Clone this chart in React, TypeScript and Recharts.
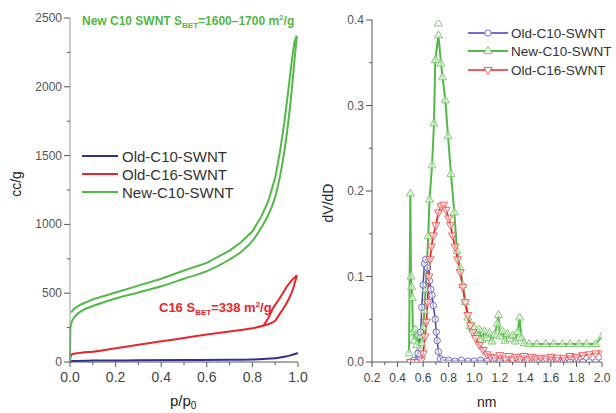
import React from "react";
import { LineChart, Line, XAxis, YAxis } from "recharts";

// ---- left panel: isotherms (cc/g vs p/p0) ----
const newC10AdsP = [0, 0.002, 0.01, 0.03, 0.06, 0.1, 0.2, 0.3, 0.4, 0.5, 0.6, 0.7, 0.75, 0.8, 0.84, 0.87, 0.9, 0.92, 0.94, 0.96, 0.975, 0.985, 0.995];
const newC10AdsV = [0, 250, 300, 345, 380, 407, 462, 505, 550, 605, 660, 745, 800, 880, 980, 1070, 1200, 1340, 1530, 1780, 2020, 2200, 2370];
const newC10DesP = [0.995, 0.985, 0.975, 0.96, 0.94, 0.92, 0.9, 0.87, 0.84, 0.8, 0.75, 0.7, 0.6, 0.5, 0.4, 0.3, 0.2, 0.1, 0.05, 0.02, 0.005];
const newC10DesV = [2370, 2330, 2220, 2010, 1740, 1520, 1340, 1170, 1060, 950, 870, 810, 720, 665, 605, 555, 505, 455, 420, 390, 360];

const oldC16AdsP = [0, 0.002, 0.01, 0.05, 0.1, 0.2, 0.3, 0.4, 0.5, 0.6, 0.7, 0.8, 0.85, 0.9, 0.92, 0.94, 0.96, 0.98, 0.995];
const oldC16AdsV = [0, 35, 58, 68, 75, 100, 125, 150, 175, 200, 222, 245, 265, 300, 350, 400, 460, 540, 630];
const oldC16DesP = [0.995, 0.985, 0.97, 0.95, 0.93, 0.91, 0.89, 0.87, 0.85];
const oldC16DesV = [630, 615, 590, 545, 490, 440, 390, 320, 268];

const oldC10P = [0, 0.01, 0.1, 0.3, 0.5, 0.7, 0.8, 0.85, 0.9, 0.94, 0.97, 0.99, 1.0];
const oldC10V = [0, 8, 10, 12, 14, 16, 18, 22, 28, 38, 50, 60, 65];

// ---- right panel: pore size distribution (dV/dD vs nm) ----
const greenNm = [0.49, 0.5, 0.505, 0.51, 0.515, 0.52, 0.53, 0.54, 0.55, 0.56, 0.57, 0.58, 0.59, 0.6, 0.61, 0.62, 0.63, 0.64, 0.65, 0.67, 0.685, 0.695, 0.72, 0.74, 0.752, 0.774, 0.795, 0.818, 0.844, 0.865, 0.89, 0.91, 0.93, 0.95, 0.97, 0.99, 1.0, 1.02, 1.04, 1.06, 1.08, 1.1, 1.12, 1.14, 1.16, 1.18, 1.19, 1.2, 1.22, 1.24, 1.26, 1.28, 1.3, 1.32, 1.34, 1.355, 1.37, 1.39, 1.43, 1.49, 1.56, 1.62, 1.69, 1.75, 1.82, 1.88, 1.95, 2.0];
const greenV = [0.01, 0.197, 0.1, 0.088, 0.075, 0.035, 0.025, 0.038, 0.02, 0.032, 0.015, 0.03, 0.022, 0.04, 0.06, 0.085, 0.115, 0.147, 0.19, 0.23, 0.279, 0.353, 0.382, 0.349, 0.333, 0.306, 0.264, 0.22, 0.175, 0.13, 0.11, 0.09, 0.07, 0.052, 0.042, 0.039, 0.04, 0.032, 0.038, 0.026, 0.036, 0.028, 0.034, 0.024, 0.032, 0.045, 0.055, 0.03, 0.036, 0.025, 0.033, 0.027, 0.031, 0.024, 0.035, 0.052, 0.028, 0.022, 0.021, 0.021, 0.021, 0.021, 0.021, 0.021, 0.021, 0.021, 0.021, 0.03];
const greenTopNm = [0.72];
const greenTopV = [0.396];

const redNm = [0.5, 0.53, 0.56, 0.585, 0.6, 0.615, 0.625, 0.635, 0.645, 0.655, 0.665, 0.68, 0.7, 0.72, 0.74, 0.76, 0.78, 0.8, 0.815, 0.83, 0.85, 0.87, 0.89, 0.91, 0.93, 0.95, 0.97, 0.99, 1.01, 1.04, 1.07, 1.1, 1.13, 1.16, 1.2, 1.24, 1.27, 1.3, 1.33, 1.36, 1.39, 1.42, 1.45, 1.48, 1.52, 1.56, 1.6, 1.65, 1.7, 1.75, 1.8, 1.85, 1.9, 1.95, 2.0];
const redV = [0, 0, 0, 0.002, 0.01, 0.03, 0.047, 0.07, 0.1, 0.12, 0.135, 0.148, 0.16, 0.175, 0.182, 0.184, 0.178, 0.168, 0.16, 0.148, 0.135, 0.12, 0.105, 0.088, 0.07, 0.055, 0.043, 0.035, 0.028, 0.02, 0.014, 0.009, 0.006, 0.005, 0.008, 0.004, 0.007, 0.003, 0.006, 0.004, 0.007, 0.003, 0.006, 0.004, 0.005, 0.004, 0.006, 0.005, 0.005, 0.007, 0.006, 0.008, 0.009, 0.01, 0.01];

const blueNm = [0.5, 0.53, 0.56, 0.58, 0.59, 0.6, 0.61, 0.62, 0.635, 0.65, 0.66, 0.67, 0.68, 0.695, 0.703, 0.71, 0.72, 0.735, 0.76, 0.8, 0.85, 0.9, 0.95, 1.0, 1.05, 1.1, 1.15, 1.2, 1.25, 1.3, 1.35, 1.4, 1.45, 1.5, 1.55, 1.6, 1.65, 1.7, 1.75, 1.8, 1.85, 1.9, 1.95, 2.0];
const blueV = [0, 0.002, 0.01, 0.035, 0.064, 0.09, 0.115, 0.12, 0.11, 0.095, 0.085, 0.078, 0.066, 0.05, 0.035, 0.025, 0.012, 0.004, 0.002, 0.002, 0.001, 0.002, 0.001, 0.001, 0.002, 0.001, 0.001, 0.001, 0.002, 0.001, 0, 0.001, 0.001, 0, 0.001, 0, 0.001, 0, 0, 0.001, 0, 0, 0, 0];

const leftXTicks = [0, 0.1, 0.2, 0.3, 0.4, 0.5, 0.6, 0.7, 0.8, 0.9, 1.0];
const leftYTicks = [0, 250, 500, 750, 1000, 1250, 1500, 1750, 2000, 2250, 2500];
const rightXTicks = [0.2, 0.3, 0.4, 0.5, 0.6, 0.7, 0.8, 0.9, 1.0, 1.1, 1.2, 1.3, 1.4, 1.5, 1.6, 1.7, 1.8, 1.9, 2.0];
const rightYTicks = [0, 0.05, 0.1, 0.15, 0.2, 0.25, 0.3, 0.35, 0.4];

const pts = (xs: number[], ys: number[]) => xs.map((x, i) => ({ x, y: ys[i] }));

const GREEN = "#52b847";
const RED = "#e8262b";
const BLUE = "#2e3192";
const FONT = "'Liberation Sans', Arial, sans-serif";
const AXIS = "#555";

const XTick = ({ x, y, payload, fontSize, fmtMajor }: any) => {
  const major = fmtMajor(payload.value);
  return (
    <g>
      <line x1={x} y1={y} x2={x} y2={y + (major ? 5 : 3)} stroke={AXIS} strokeWidth={1} />
      {major && (
        <text x={x} y={y + 20} textAnchor="middle" fontSize={fontSize} fill="#444" fontFamily={FONT}>
          {payload.value.toFixed(1)}
        </text>
      )}
    </g>
  );
};

const YTick = ({ x, y, payload, fontSize, fmtMajor, label }: any) => {
  const major = fmtMajor(payload.value);
  return (
    <g>
      <line x1={x} y1={y} x2={x - (major ? 6 : 3)} y2={y} stroke={AXIS} strokeWidth={1} />
      {major && (
        <text x={x - 8} y={y + 4} textAnchor="end" fontSize={fontSize} fill="#555" fontFamily={FONT}>
          {label(payload.value)}
        </text>
      )}
    </g>
  );
};

const triUp = (stroke: string) => (p: any) => {
  if (p.cx == null) return <g key={p.index} />;
  const { cx, cy } = p;
  return (
    <path key={p.index} d={`M${cx},${cy - 4.5}L${cx + 4},${cy + 2.5}L${cx - 4},${cy + 2.5}Z`}
      fill="#fff" fillOpacity={0.55} stroke={stroke} strokeWidth={1} />
  );
};
const triDown = (stroke: string) => (p: any) => {
  if (p.cx == null) return <g key={p.index} />;
  const { cx, cy } = p;
  return (
    <path key={p.index} d={`M${cx},${cy + 4.5}L${cx + 4},${cy - 2.5}L${cx - 4},${cy - 2.5}Z`}
      fill="#fff" fillOpacity={0.55} stroke={stroke} strokeWidth={1} />
  );
};
const circ = (stroke: string) => (p: any) => {
  if (p.cx == null) return <g key={p.index} />;
  return <circle key={p.index} cx={p.cx} cy={p.cy} r={3.2} fill="#fff" fillOpacity={0.55} stroke={stroke} strokeWidth={1} />;
};

function LeftChart() {
  return (
    <LineChart width={320} height={413} margin={{ top: 18, right: 22, left: 30, bottom: 21 }}>
      <XAxis type="number" dataKey="x" domain={[0, 1]} ticks={leftXTicks} interval={0} height={30}
        axisLine={{ stroke: AXIS }} tickLine={false} tickSize={0} tickMargin={0}
        tick={<XTick fontSize={14} fmtMajor={(v: number) => Math.round(v * 10) % 2 === 0} />} />
      <YAxis type="number" dataKey="y" domain={[0, 2500]} ticks={leftYTicks} interval={0} width={40}
        axisLine={{ stroke: "#999" }} tickLine={false} tickSize={0} tickMargin={0}
        tick={<YTick fontSize={12} fmtMajor={(v: number) => v % 500 === 0} label={(v: number) => String(v)} />} />
      <Line data={pts(oldC10P, oldC10V)} dataKey="y" stroke={BLUE} strokeWidth={2} dot={false} type="monotone" isAnimationActive={false} />
      <Line data={pts(oldC16AdsP, oldC16AdsV)} dataKey="y" stroke={RED} strokeWidth={2} dot={false} type="monotone" isAnimationActive={false} />
      <Line data={pts(oldC16DesP, oldC16DesV)} dataKey="y" stroke={RED} strokeWidth={2} dot={false} type="linear" isAnimationActive={false} />
      <Line data={pts(newC10AdsP, newC10AdsV)} dataKey="y" stroke={GREEN} strokeWidth={2} dot={false} type="monotone" isAnimationActive={false} />
      <Line data={pts(newC10DesP, newC10DesV)} dataKey="y" stroke={GREEN} strokeWidth={2} dot={false} type="linear" isAnimationActive={false} />
    </LineChart>
  );
}

function RightChart() {
  return (
    <LineChart width={296} height={413} margin={{ top: 20, right: 14, left: 12, bottom: 21 }}>
      <XAxis type="number" dataKey="x" domain={[0.2, 2.0]} ticks={rightXTicks} interval={0} height={30}
        axisLine={{ stroke: AXIS }} tickLine={false} tickSize={0} tickMargin={0} allowDataOverflow
        tick={<XTick fontSize={12} fmtMajor={(v: number) => Math.round(v * 10) % 2 === 0} />} />
      <YAxis type="number" dataKey="y" domain={[0, 0.4]} ticks={rightYTicks} interval={0} width={40}
        axisLine={{ stroke: AXIS }} tickLine={false} tickSize={0} tickMargin={0} allowDataOverflow
        tick={<YTick fontSize={12} fmtMajor={(v: number) => Math.round(v * 100) % 10 === 0} label={(v: number) => v.toFixed(1)} />} />
      <Line data={pts(greenNm, greenV)} dataKey="y" stroke={GREEN} strokeWidth={2} dot={triUp("#7ccc6c")} type="linear" isAnimationActive={false} />
      <Line data={pts(greenTopNm, greenTopV)} dataKey="y" stroke="none" dot={triUp("#7ccc6c")} isAnimationActive={false} />
      <Line data={pts(blueNm, blueV)} dataKey="y" stroke="#4848b0" strokeWidth={1.5} dot={circ("#7070d0")} type="linear" isAnimationActive={false} />
      <Line data={pts(redNm, redV)} dataKey="y" stroke={RED} strokeWidth={1.8} dot={triDown("#f06060")} type="linear" isAnimationActive={false} />
    </LineChart>
  );
}

export default function App() {
  const txt = { fontFamily: FONT };
  return (
    <div style={{ position: "absolute", left: 0, top: 0, width: 616, height: 413, background: "#fff", overflow: "hidden" }}>
      <div style={{ position: "absolute", left: 0, top: 0 }}><LeftChart /></div>
      <div style={{ position: "absolute", left: 320, top: 0 }}><RightChart /></div>
      <svg width={616} height={413} style={{ position: "absolute", left: 0, top: 0, pointerEvents: "none" }}>
        {/* annotations */}
        <text x={82} y={25} fontSize={12} fontWeight="bold" fill={GREEN} style={txt}>
          New C10 SWNT S<tspan fontSize={8} dy={3}>BET</tspan><tspan dy={-3}>=1600–1700 m</tspan><tspan fontSize={8} dy={-5}>2</tspan><tspan dy={5}>/g</tspan>
        </text>
        <text x={159} y={312} fontSize={13} fontWeight="bold" fill={RED} style={txt}>
          C16 S<tspan fontSize={8} dy={3}>BET</tspan><tspan dy={-3}>=338 m</tspan><tspan fontSize={8} dy={-5}>2</tspan><tspan dy={5}>/g</tspan>
        </text>
        {/* axis titles */}
        <text transform="translate(21,184) rotate(-90)" textAnchor="middle" fontSize={14} fill="#222" style={txt}>cc/g</text>
        <text x={170} y={406} fontSize={15} fill="#222" style={txt}>p/p<tspan fontSize={10} dy={3}>0</tspan></text>
        <text transform="translate(333,203) rotate(-90)" textAnchor="middle" fontSize={14} fill="#222" style={txt}>dV/dD</text>
        <text x={477} y={407} fontSize={14} fill="#222" style={txt}>nm</text>
        {/* left legend */}
        {[["Old-C10-SWNT", BLUE], ["Old-C16-SWNT", RED], ["New-C10-SWNT", GREEN]].map(([name, c], i) => (
          <g key={name}>
            <line x1={82} x2={118} y1={156 + i * 18} y2={156 + i * 18} stroke={c} strokeWidth={2} />
            <text x={122} y={161.5 + i * 18} fontSize={15} fill="#333" style={txt}>{name}</text>
          </g>
        ))}
        {/* right legend */}
        <g>
          <line x1={468} x2={508} y1={33} y2={33} stroke="#7070c8" strokeWidth={2} />
          <circle cx={488} cy={33} r={3.2} fill="#fff" stroke="#7070d0" />
          <text x={511} y={38} fontSize={13.5} fill="#333" style={txt}>Old-C10-SWNT</text>
          <line x1={468} x2={508} y1={51} y2={51} stroke={GREEN} strokeWidth={2} />
          <path d="M488,46.5L492,53.5L484,53.5Z" fill="#fff" stroke="#7ccc6c" />
          <text x={511} y={56} fontSize={13.5} fill="#333" style={txt}>New-C10-SWNT</text>
          <line x1={468} x2={508} y1={70} y2={70} stroke="#f06060" strokeWidth={2} />
          <path d="M488,74.5L492,67.5L484,67.5Z" fill="#fff" stroke="#f06060" />
          <text x={511} y={75} fontSize={13.5} fill="#333" style={txt}>Old-C16-SWNT</text>
        </g>
      </svg>
    </div>
  );
}
